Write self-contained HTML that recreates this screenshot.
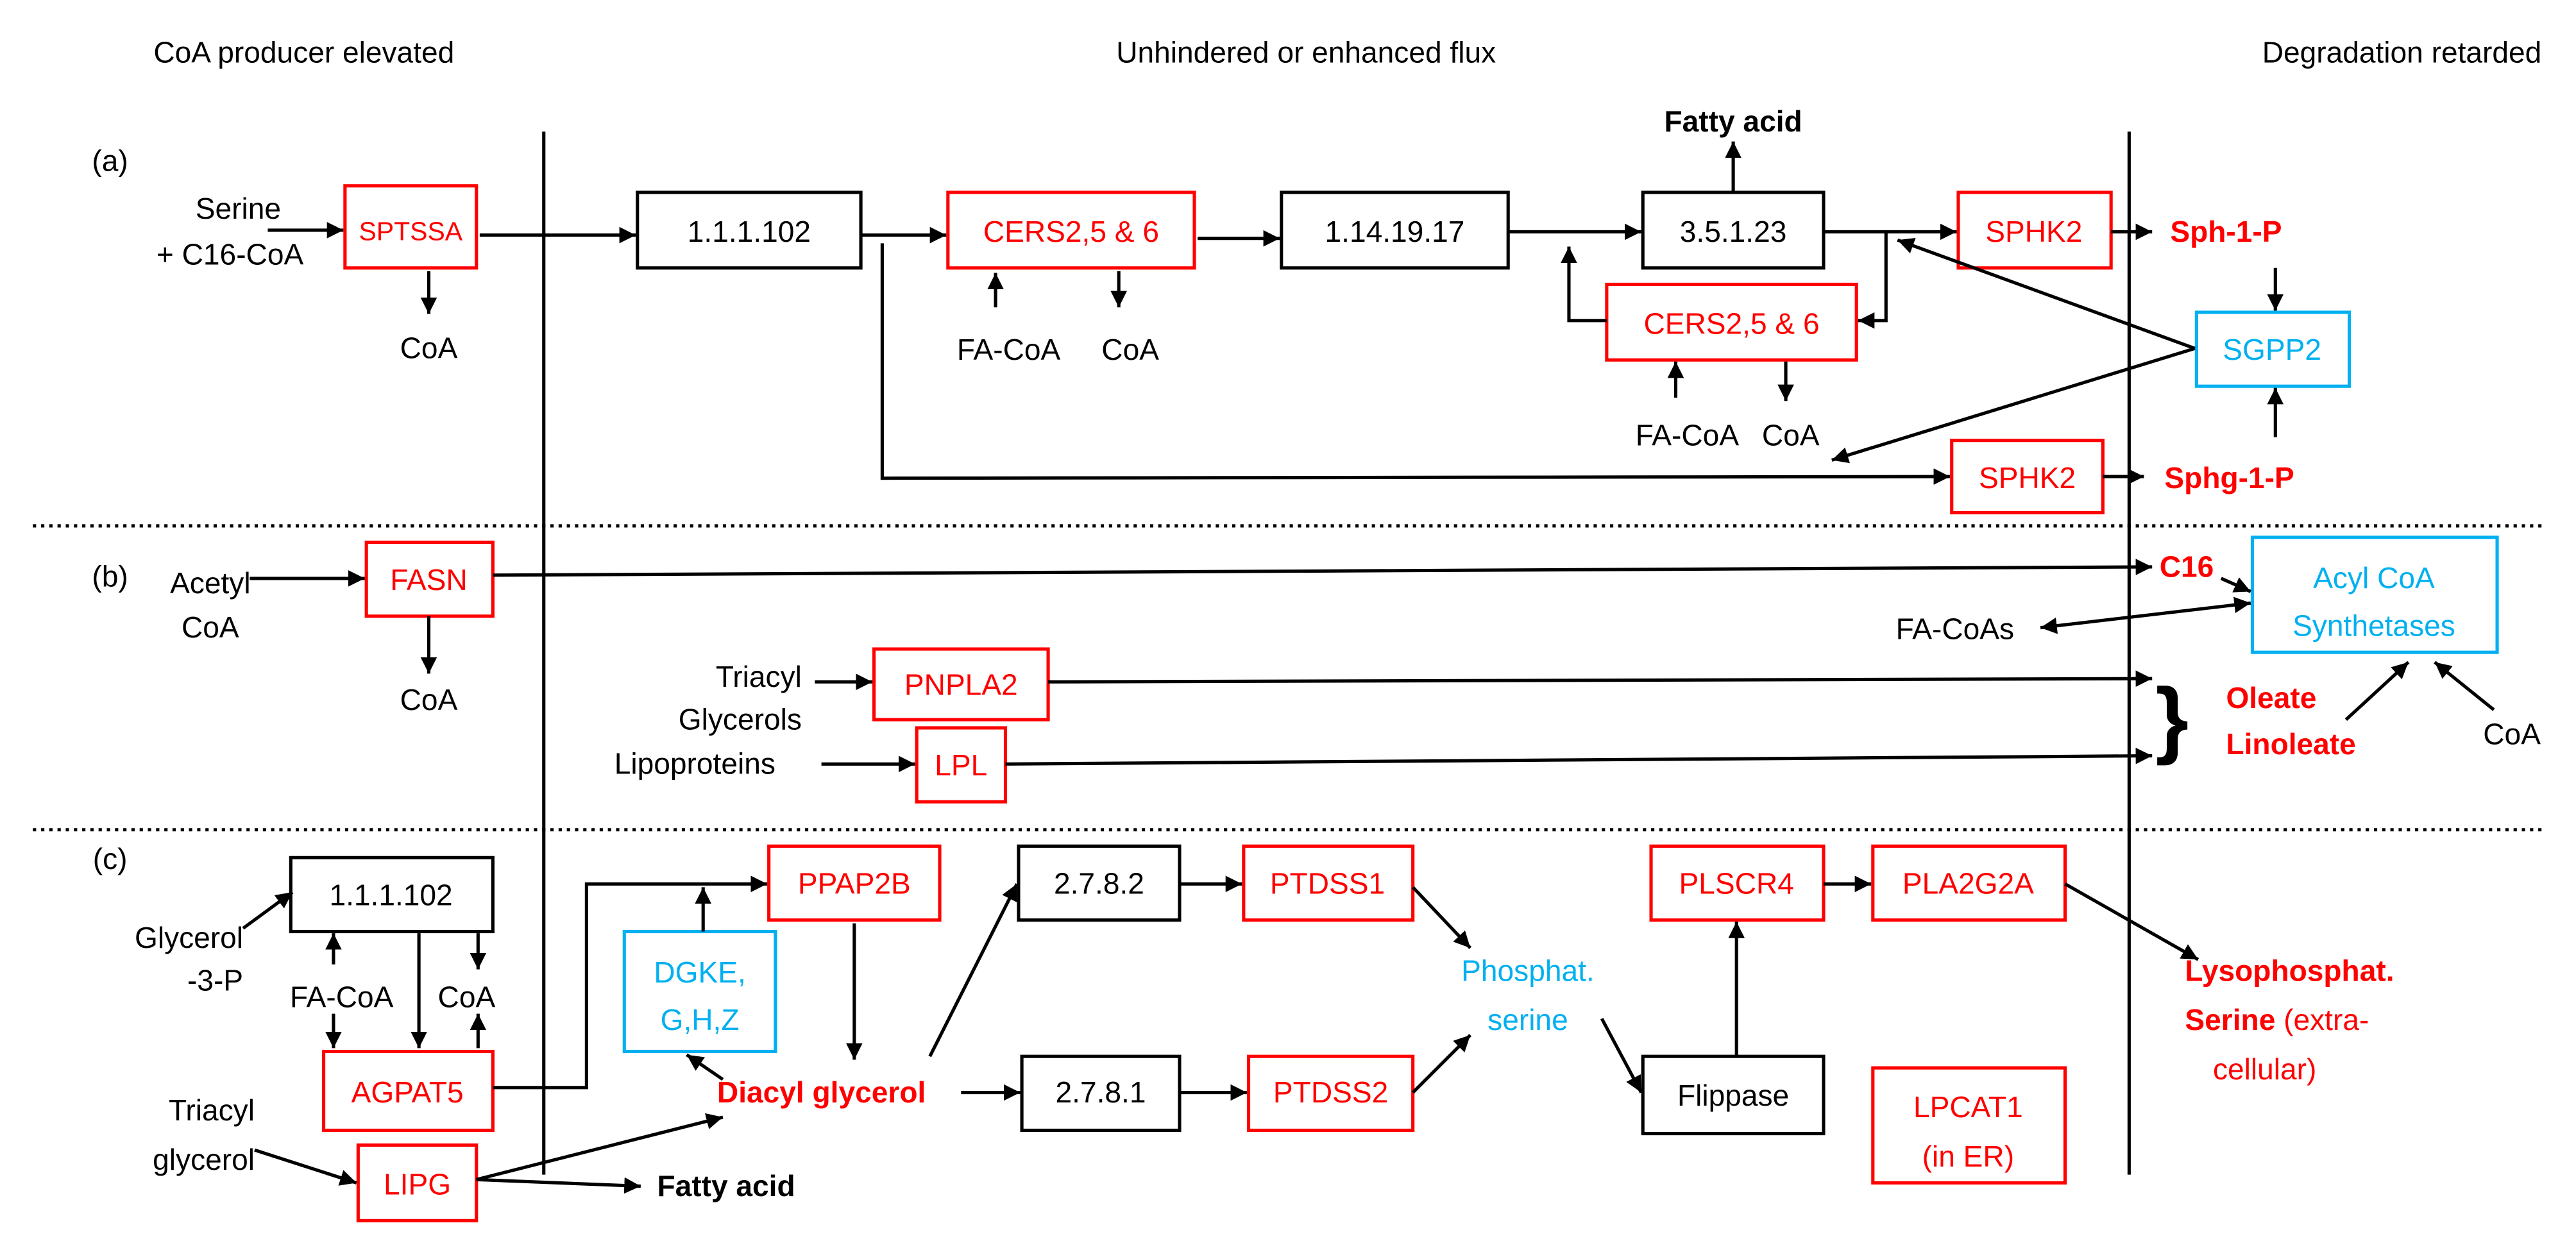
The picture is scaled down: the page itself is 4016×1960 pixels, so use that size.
<!DOCTYPE html>
<html><head><meta charset="utf-8"><style>
html,body{margin:0;padding:0;background:#fff;}
svg{display:block;}
text{font-family:"Liberation Sans",sans-serif;font-size:18px;}
.r{fill:#f00}.c{fill:#00b0f0}.b{font-weight:bold}
</style></head><body>
<svg width="4016" height="1960" viewBox="0 0 1568 765" xmlns="http://www.w3.org/2000/svg">
<defs>
<marker id="a" markerUnits="userSpaceOnUse" markerWidth="12" markerHeight="12" refX="10" refY="5" orient="auto"><path d="M0,0 L10,5 L0,10 z" fill="#000"/></marker>
<marker id="s" markerUnits="userSpaceOnUse" markerWidth="12" markerHeight="12" refX="0" refY="5" orient="auto"><path d="M10,0 L0,5 L10,10 z" fill="#000"/></marker>
</defs>
<rect width="1568" height="765" fill="#fff"/>
<g text-anchor="middle">
<text x="185" y="38">CoA producer elevated</text>
<text x="795" y="38">Unhindered or enhanced flux</text>
<text x="1462" y="38">Degradation retarded</text>
</g>
<g stroke="#000" stroke-width="2">
<line x1="331" y1="80" x2="331" y2="715"/>
<line x1="1296" y1="80" x2="1296" y2="715"/>
</g>
<g stroke="#000" stroke-width="2" stroke-dasharray="2,3">
<line x1="20" y1="320" x2="1550" y2="320"/>
<line x1="20" y1="505" x2="1550" y2="505"/>
</g>
<g fill="#fff" stroke-width="2">
<rect x="210" y="113" width="80" height="50" stroke="#f00"/>
<rect x="388" y="117" width="136" height="46" stroke="#000"/>
<rect x="577" y="117" width="150" height="46" stroke="#f00"/>
<rect x="780" y="117" width="138" height="46" stroke="#000"/>
<rect x="1000" y="117" width="110" height="46" stroke="#000"/>
<rect x="1192" y="117" width="93" height="46" stroke="#f00"/>
<rect x="978" y="173" width="152" height="46" stroke="#f00"/>
<rect x="1337" y="190" width="93" height="45" stroke="#00b0f0"/>
<rect x="1188" y="268" width="92" height="44" stroke="#f00"/>
<rect x="223" y="330" width="77" height="45" stroke="#f00"/>
<rect x="1371" y="327" width="149" height="70" stroke="#00b0f0"/>
<rect x="532" y="395" width="106" height="43" stroke="#f00"/>
<rect x="558" y="443" width="54" height="45" stroke="#f00"/>
<rect x="177" y="522" width="123" height="45" stroke="#000"/>
<rect x="197" y="640" width="103" height="48" stroke="#f00"/>
<rect x="468" y="515" width="104" height="45" stroke="#f00"/>
<rect x="380" y="567" width="92" height="73" stroke="#00b0f0"/>
<rect x="218" y="697" width="72" height="46" stroke="#f00"/>
<rect x="622" y="643" width="96" height="45" stroke="#000"/>
<rect x="760" y="643" width="100" height="45" stroke="#f00"/>
<rect x="620" y="515" width="98" height="45" stroke="#000"/>
<rect x="757" y="515" width="103" height="45" stroke="#f00"/>
<rect x="1000" y="643" width="110" height="47" stroke="#000"/>
<rect x="1005" y="515" width="105" height="45" stroke="#f00"/>
<rect x="1140" y="515" width="117" height="45" stroke="#f00"/>
<rect x="1140" y="650" width="117" height="70" stroke="#f00"/>
</g>
<g stroke="#000" stroke-width="2" fill="none" marker-end="url(#a)">
<line x1="163" y1="140" x2="209" y2="140"/>
<line x1="261" y1="165" x2="261" y2="191"/>
<line x1="292" y1="143" x2="387" y2="143"/>
<line x1="524" y1="143" x2="576" y2="143"/>
<line x1="606" y1="187" x2="606" y2="166"/>
<line x1="681" y1="165" x2="681" y2="187"/>
<line x1="729" y1="145" x2="779" y2="145"/>
<line x1="918" y1="141" x2="999" y2="141"/>
<line x1="1055" y1="117" x2="1055" y2="86"/>
<line x1="1110" y1="141" x2="1191" y2="141"/>
<polyline points="1148,141 1148,195 1131,195"/>
<polyline points="978,195 955,195 955,150"/>
<line x1="1020" y1="242" x2="1020" y2="220"/>
<line x1="1087" y1="220" x2="1087" y2="244"/>
<line x1="1285" y1="141" x2="1310" y2="141"/>
<line x1="1385" y1="163" x2="1385" y2="189"/>
<line x1="1385" y1="266" x2="1385" y2="236"/>
<line x1="1336" y1="212" x2="1155" y2="146"/>
<line x1="1336" y1="212" x2="1115" y2="280"/>
<polyline points="537,148 537,291 1187,290"/>
<line x1="1280" y1="290" x2="1305" y2="290"/>
<line x1="152" y1="352" x2="222" y2="352"/>
<line x1="261" y1="375" x2="261" y2="410"/>
<line x1="300" y1="350" x2="1310" y2="345"/>
<line x1="1352" y1="352" x2="1370" y2="360"/>
<line x1="1242" y1="382" x2="1370" y2="367" marker-start="url(#s)"/>
<line x1="496" y1="415" x2="531" y2="415"/>
<line x1="638" y1="415" x2="1310" y2="413"/>
<line x1="500" y1="465" x2="557" y2="465"/>
<line x1="612" y1="465" x2="1310" y2="460"/>
<line x1="1428" y1="438" x2="1466" y2="403"/>
<line x1="1518" y1="432" x2="1482" y2="403"/>
<line x1="148" y1="565" x2="178" y2="543"/>
<line x1="203" y1="587" x2="203" y2="568"/>
<line x1="255" y1="568" x2="255" y2="638"/>
<line x1="291" y1="568" x2="291" y2="590"/>
<line x1="203" y1="617" x2="203" y2="638"/>
<line x1="291" y1="638" x2="291" y2="617"/>
<polyline points="300,662 357,662 357,538 467,538"/>
<line x1="428" y1="567" x2="428" y2="540"/>
<line x1="520" y1="562" x2="520" y2="645"/>
<line x1="440" y1="657" x2="418" y2="642"/>
<line x1="155" y1="700" x2="217" y2="720"/>
<line x1="290" y1="718" x2="440" y2="680"/>
<line x1="290" y1="718" x2="390" y2="722"/>
<line x1="585" y1="665" x2="621" y2="665"/>
<line x1="718" y1="665" x2="759" y2="665"/>
<line x1="566" y1="643" x2="619" y2="538"/>
<line x1="718" y1="538" x2="756" y2="538"/>
<line x1="860" y1="540" x2="895" y2="577"/>
<line x1="860" y1="665" x2="895" y2="630"/>
<line x1="975" y1="620" x2="999" y2="665"/>
<line x1="1057" y1="643" x2="1057" y2="561"/>
<line x1="1110" y1="538" x2="1139" y2="538"/>
<line x1="1257" y1="538" x2="1338" y2="584"/>
</g>
<g text-anchor="middle">
<text x="67" y="104">(a)</text>
<text x="145" y="133">Serine</text>
<text x="140" y="161">+ C16-CoA</text>
<text x="250" y="146" class="r" style="font-size:16px">SPTSSA</text>
<text x="261" y="218">CoA</text>
<text x="456" y="147">1.1.1.102</text>
<text x="652" y="147" class="r">CERS2,5 &amp; 6</text>
<text x="614" y="219">FA-CoA</text>
<text x="688" y="219">CoA</text>
<text x="849" y="147">1.14.19.17</text>
<text x="1055" y="147">3.5.1.23</text>
<text x="1055" y="80" class="b">Fatty acid</text>
<text x="1238" y="147" class="r">SPHK2</text>
<text x="1355" y="147" class="r b">Sph-1-P</text>
<text x="1054" y="203" class="r">CERS2,5 &amp; 6</text>
<text x="1027" y="271">FA-CoA</text>
<text x="1090" y="271">CoA</text>
<text x="1383" y="219" class="c">SGPP2</text>
<text x="1234" y="297" class="r">SPHK2</text>
<text x="1357" y="297" class="r b">Sphg-1-P</text>
<text x="67" y="357">(b)</text>
<text x="128" y="361">Acetyl</text>
<text x="128" y="388">CoA</text>
<text x="261" y="359" class="r">FASN</text>
<text x="261" y="432">CoA</text>
<text x="1331" y="351" class="r b">C16</text>
<text x="1445" y="358" class="c">Acyl CoA</text>
<text x="1445" y="387" class="c">Synthetases</text>
<text x="1190" y="389">FA-CoAs</text>
<text x="585" y="423" class="r">PNPLA2</text>
<text x="585" y="472" class="r">LPL</text>
<text x="1529" y="453">CoA</text>
<text x="67" y="529">(c)</text>
<text x="238" y="551">1.1.1.102</text>
<text x="208" y="613">FA-CoA</text>
<text x="284" y="613">CoA</text>
<text x="248" y="671" class="r">AGPAT5</text>
<text x="520" y="544" class="r">PPAP2B</text>
<text x="426" y="598" class="c">DGKE,</text>
<text x="426" y="627" class="c">G,H,Z</text>
<text x="500" y="671" class="r b">Diacyl glycerol</text>
<text x="254" y="727" class="r">LIPG</text>
<text x="670" y="671">2.7.8.1</text>
<text x="810" y="671" class="r">PTDSS2</text>
<text x="669" y="544">2.7.8.2</text>
<text x="808" y="544" class="r">PTDSS1</text>
<text x="930" y="597" class="c">Phosphat.</text>
<text x="930" y="627" class="c">serine</text>
<text x="1055" y="673">Flippase</text>
<text x="1057" y="544" class="r">PLSCR4</text>
<text x="1198" y="544" class="r">PLA2G2A</text>
<text x="1198" y="680" class="r">LPCAT1</text>
<text x="1198" y="710" class="r">(in ER)</text>
</g>
<g text-anchor="end">
<text x="488" y="418">Triacyl</text>
<text x="488" y="444">Glycerols</text>
<text x="472" y="471">Lipoproteins</text>
<text x="148" y="577">Glycerol</text>
<text x="148" y="603">-3-P</text>
<text x="155" y="682">Triacyl</text>
<text x="155" y="712">glycerol</text>
</g>
<text x="400" y="728" class="b">Fatty acid</text>
<text x="1312" y="455" style="font-size:52px;font-weight:bold">}</text>
<text x="1355" y="431" class="r b">Oleate</text>
<text x="1355" y="459" class="r b">Linoleate</text>
<text x="1330" y="597" class="r b">Lysophosphat.</text>
<text x="1330" y="627" class="r"><tspan class="b">Serine</tspan> (extra-</text>
<text x="1347" y="657" class="r">cellular)</text>
</svg>
</body></html>
